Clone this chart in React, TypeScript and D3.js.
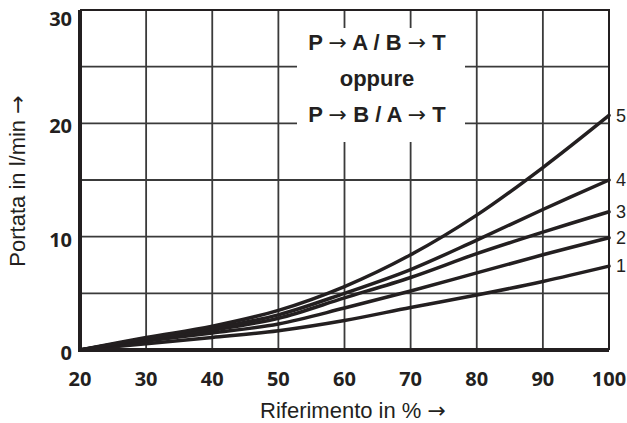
import React, { useEffect, useRef } from "react";
import * as d3 from "d3";

// Riferimento in % (x positions where values were read)
const xValues = [20, 30, 40, 50, 60, 70, 80, 90, 100];

// Portata in l/min, curves 1..5
const curve1 = [0, 0.55, 1.1, 1.7, 2.6, 3.75, 4.85, 6.05, 7.4];
const curve2 = [0, 0.8, 1.5, 2.3, 3.7, 5.2, 6.8, 8.4, 9.9];
const curve3 = [0, 0.95, 1.75, 2.8, 4.6, 6.4, 8.5, 10.4, 12.2];
const curve4 = [0, 1.0, 1.9, 3.1, 5.0, 7.1, 9.7, 12.4, 15.0];
const curve5 = [0, 1.1, 2.1, 3.5, 5.6, 8.4, 11.9, 16.1, 20.7];
const curveNames = ["1", "2", "3", "4", "5"];

const xTicks = [20, 30, 40, 50, 60, 70, 80, 90, 100];
const yTicks = [0, 10, 20, 30];
const yGrid = [5, 10, 15, 20, 25];

const ARROW = "\u2192";

const FlowChart = () => {
  const svgRef = useRef<SVGSVGElement>(null);

  useEffect(() => {
    const width = 627;
    const height = 423;
    const ink = "#231f20";

    const svg = d3.select(svgRef.current).attr("width", width).attr("height", height);
    svg.selectAll("*").remove();

    const x = d3.scaleLinear().domain([20, 100]).range([80, 609]);
    const y = d3.scaleLinear().domain([0, 30]).range([350, 10]);

    // grid
    const grid = svg.append("g").attr("stroke", "#3a3a3a").attr("stroke-width", 1.8);
    grid.selectAll("line.v")
      .data(xTicks.slice(1, -1))
      .enter()
      .append("line")
      .attr("x1", d => x(d))
      .attr("x2", d => x(d))
      .attr("y1", y(30))
      .attr("y2", y(0));
    grid.selectAll("line.h")
      .data(yGrid)
      .enter()
      .append("line")
      .attr("x1", x(20))
      .attr("x2", x(100))
      .attr("y1", d => y(d))
      .attr("y2", d => y(d));

    // top and right border
    svg.append("path")
      .attr("d", `M${x(20)},${y(30)}H${x(100)}V${y(0)}`)
      .attr("fill", "none")
      .attr("stroke", ink)
      .attr("stroke-width", 2);

    // white label box covering the grid
    svg.append("rect")
      .attr("x", 297)
      .attr("y", 28)
      .attr("width", 168)
      .attr("height", 114)
      .attr("fill", "#fff");

    const boxFont = "'Liberation Sans', Arial, sans-serif";
    const arrowFont = "'DejaVu Sans', sans-serif";
    const boxLines = [
      ["P", "A / B", "T"],
      null,
      ["P", "B / A", "T"],
    ];
    boxLines.forEach((parts, i) => {
      const t = svg.append("text")
        .attr("x", 377)
        .attr("y", 50 + i * 36)
        .attr("text-anchor", "middle")
        .attr("font-family", boxFont)
        .attr("font-size", 22)
        .attr("font-weight", "bold")
        .attr("fill", ink);
      if (!parts) {
        t.text("oppure");
        return;
      }
      t.append("tspan").text(parts[0] + " ");
      t.append("tspan").attr("font-family", arrowFont).attr("font-weight", "normal").text(ARROW);
      t.append("tspan").text(" " + parts[1] + " ");
      t.append("tspan").attr("font-family", arrowFont).attr("font-weight", "normal").text(ARROW);
      t.append("tspan").text(" " + parts[2]);
    });

    // curves
    const line = d3.line<number>()
      .x((_, i) => x(xValues[i]))
      .y(d => y(d))
      .curve(d3.curveCatmullRom.alpha(0.5));

    const curves = [curve1, curve2, curve3, curve4, curve5];
    svg.append("g")
      .selectAll("path")
      .data(curves)
      .enter()
      .append("path")
      .attr("d", d => line(d))
      .attr("fill", "none")
      .attr("stroke", ink)
      .attr("stroke-width", 3.5)
      .attr("stroke-linecap", "round");

    svg.append("g")
      .selectAll("text")
      .data(curves)
      .enter()
      .append("text")
      .attr("x", x(100) + 7)
      .attr("y", d => y(d[d.length - 1]))
      .attr("dy", "0.35em")
      .attr("font-family", boxFont)
      .attr("font-size", 18)
      .attr("fill", ink)
      .text((_, i) => curveNames[i]);

    // axes (thick left and bottom)
    svg.append("path")
      .attr("d", `M${x(20)},${y(30)}V${y(0)}H${x(100)}`)
      .attr("fill", "none")
      .attr("stroke", ink)
      .attr("stroke-width", 4);

    const tickFont = "'Open Sans', 'DejaVu Sans', sans-serif";
    svg.append("g")
      .selectAll("text")
      .data(xTicks)
      .enter()
      .append("text")
      .attr("x", d => x(d))
      .attr("y", 379)
      .attr("dy", "0.35em")
      .attr("text-anchor", "middle")
      .attr("font-family", tickFont)
      .attr("font-weight", "bold")
      .attr("font-size", 20)
      .attr("fill", ink)
      .text(d => d);

    svg.append("g")
      .selectAll("text")
      .data(yTicks)
      .enter()
      .append("text")
      .attr("x", 72)
      .attr("y", d => Math.max(y(d) + 3, 19))
      .attr("dy", "0.35em")
      .attr("text-anchor", "end")
      .attr("font-family", tickFont)
      .attr("font-weight", "bold")
      .attr("font-size", 20)
      .attr("fill", ink)
      .text(d => d);

    // axis titles
    const xTitle = svg.append("text")
      .attr("x", 353)
      .attr("y", 418)
      .attr("text-anchor", "middle")
      .attr("font-family", boxFont)
      .attr("font-size", 22)
      .attr("fill", ink);
    xTitle.append("tspan").text("Riferimento in % ");
    xTitle.append("tspan").attr("font-family", arrowFont).text(ARROW);

    const yTitle = svg.append("text")
      .attr("transform", "translate(25,181) rotate(-90)")
      .attr("text-anchor", "middle")
      .attr("font-family", boxFont)
      .attr("font-size", 22)
      .attr("fill", ink);
    yTitle.append("tspan").text("Portata in l/min ");
    yTitle.append("tspan").attr("font-family", arrowFont).text(ARROW);
  }, []);

  return <svg ref={svgRef} style={{ position: "absolute", left: 0, top: 0 }}></svg>;
};

export default function App() {
  return <FlowChart />;
}
